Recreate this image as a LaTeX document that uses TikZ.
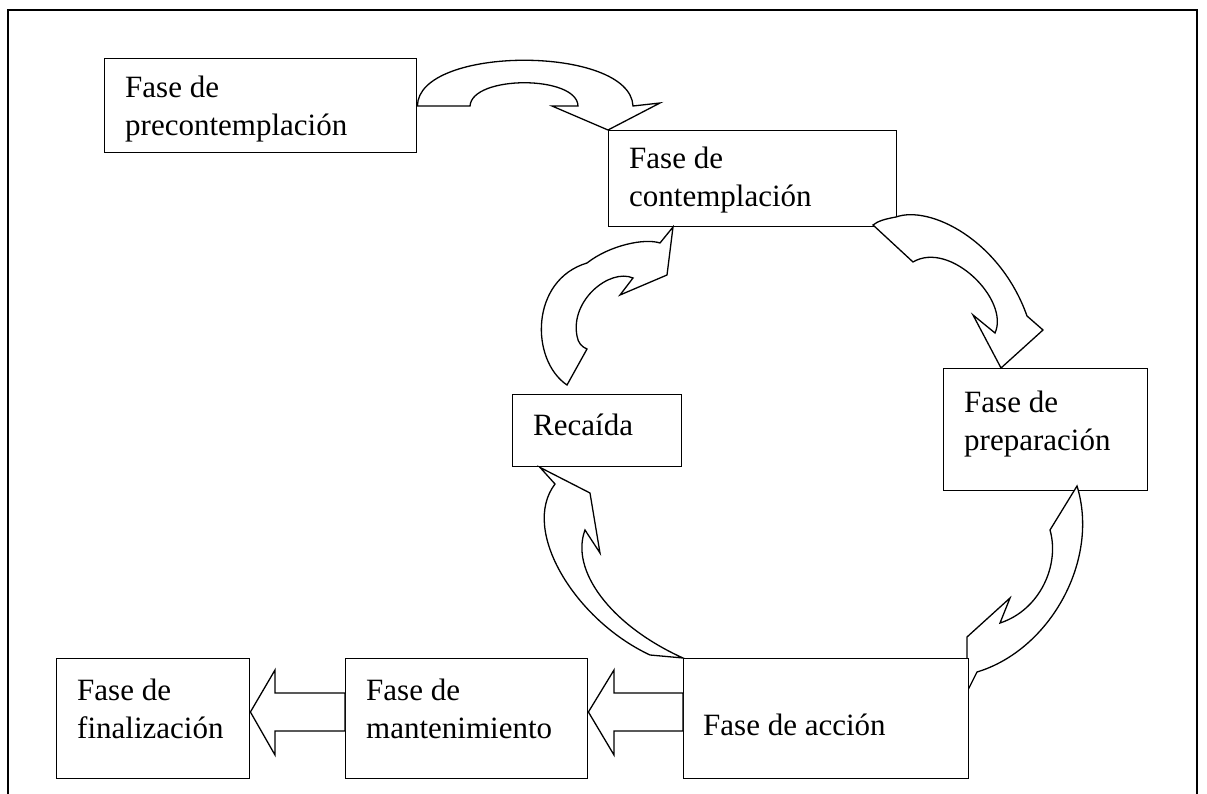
\documentclass[tikz,border=0pt]{standalone}
\usepackage{fontspec}
\setmainfont{Liberation Serif}
\begin{document}
\begin{tikzpicture}[x=1pt,y=-1pt,
  box/.style={draw, line width=1.4pt, fill=white, anchor=north west, inner sep=0pt},
  lbl/.style={anchor=base west, inner sep=0pt, font=\fontsize{31}{38}\selectfont},
  blockarrow/.style={draw, line width=1.3pt, fill=white, line join=miter}]
\useasboundingbox (0,0) rectangle (1207,794);
% frame
\draw[line width=1.3pt] (8,800) -- (8,10) -- (1197,10) -- (1197,800);

% boxes
\node[box, minimum width=312pt, minimum height=94pt] (pre) at (104,58) {};
\node[box, minimum width=288pt, minimum height=96pt] (con) at (608,130) {};
\node[box, minimum width=169pt, minimum height=72pt] (rec) at (512,394) {};
\node[box, minimum width=204pt, minimum height=122pt] (prep) at (943,368) {};
\node[box, minimum width=193pt, minimum height=120pt] (fin) at (56,658) {};
\node[box, minimum width=242pt, minimum height=120pt] (man) at (345,658) {};

% arrow from precontemplation to contemplation
\draw[blockarrow] (pre.north east |- 0,106) -- (470,106)
  .. controls (472,75) and (577,75) .. (578,106) -- (552,106) -- (con.north west)
  -- (660,103) -- (633,106) .. controls (630,45) and (418,45) .. cycle;

% arrow from contemplation to preparation
\draw[blockarrow] (873,225) -- (913,262)
  .. controls (950,240) and (1010,300) .. (995,333) -- (973,315)
  -- (prep.north -| 1001,0) -- (1043,330) -- (1027,316)
  .. controls (1000,240) and (930,205) .. (896,217)
  .. controls (885,219) and (878,221) .. cycle;

% arrow from preparation to action
\draw[blockarrow] (1077,486) -- (1050,530)
  .. controls (1060,565) and (1040,610) .. (1000,623) -- (1010,598)
  -- (967,637) -- (967,692) -- (977,672)
  .. controls (1050,650) and (1100,560) .. cycle;

% action box (over the arrow tip)
\node[box, minimum width=285pt, minimum height=120pt] (acc) at (683,658) {};

% arrow from action back to relapse
\draw[blockarrow] (rec.south west -| 540,0) -- (590,493) -- (600,553) -- (585,530)
  .. controls (570,570) and (610,625) .. (683,658)
  -- (650,655) .. controls (575,620) and (520,530) .. (555,484) -- cycle;

% arrow from relapse to contemplation
\draw[blockarrow] (567,385) .. controls (530,360) and (530,280) .. (587,263)
  .. controls (610,245) and (645,238) .. (660,243) -- (673,227)
  -- (667,275) -- (620,295) -- (633,278)
  .. controls (610,268) and (570,300) .. (577,336)
  .. controls (578,343) and (582,347) .. (587,349) -- cycle;

% straight arrows
\draw[blockarrow] (acc.west |- 0,693) -- (614,693) -- (614,670) -- (man.east |- 0,712)
  -- (614,755) -- (614,731) -- (acc.west |- 0,731) -- cycle;
\draw[blockarrow] (man.west |- 0,693) -- (275,693) -- (275,670) -- (fin.east |- 0,712)
  -- (275,755) -- (275,731) -- (man.west |- 0,731) -- cycle;

% labels
\node[lbl] (pre-a) at (125,98) {Fase de};
\node[lbl] (pre-b) at (125,136) {precontemplación};
\node[lbl] (con-a) at (629,169) {Fase de};
\node[lbl] (con-b) at (629,207) {contemplación};
\node[lbl] (rec-a) at (533,435) {Recaída};
\node[lbl] (prep-a) at (964,412) {Fase de};
\node[lbl] (prep-b) at (964,450) {preparación};
\node[lbl] (acc-a) at (703,735) {Fase de acción};
\node[lbl] (man-a) at (366,700) {Fase de};
\node[lbl] (man-b) at (366,738) {mantenimiento};
\node[lbl] (fin-a) at (77,700) {Fase de};
\node[lbl] (fin-b) at (77,738) {finalización};
\end{tikzpicture}
\end{document}
